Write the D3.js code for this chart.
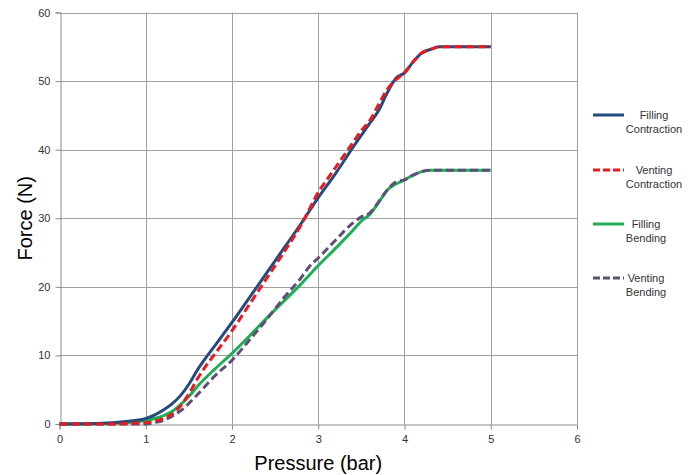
<!DOCTYPE html>
<html>
<head>
<meta charset="utf-8">
<script src="https://cdn.jsdelivr.net/npm/d3@7"></script>
<style>
  body { margin: 0; background: #fff; }
  svg { font-family: "Liberation Sans", Arial, sans-serif; }
</style>
</head>
<body>
<svg id="chart" width="694" height="475"></svg>
<script>
// pressure (bar) values per series
var fillContrX = [0, 0.5, 0.8, 1.0, 1.1, 1.2, 1.3, 1.4, 1.5, 1.6, 1.7, 1.8, 2.0, 2.2, 2.4, 2.6, 2.8, 3.0, 3.2, 3.4, 3.6, 3.7, 3.8, 3.9, 4.0, 4.1, 4.2, 4.3, 4.4, 5.0];
var fillContrY = [0, 0.1, 0.4, 0.8, 1.3, 2.0, 2.9, 4.1, 5.8, 7.9, 9.7, 11.4, 14.8, 18.4, 22.0, 25.6, 29.2, 33.0, 36.5, 40.3, 43.9, 45.7, 48.3, 50.4, 51.2, 52.8, 54.1, 54.6, 55, 55];

var ventContrX = [0, 0.5, 1.0, 1.1, 1.2, 1.3, 1.4, 1.5, 1.6, 1.7, 1.8, 2.0, 2.2, 2.4, 2.6, 2.8, 2.9, 3.0, 3.1, 3.2, 3.4, 3.5, 3.6, 3.7, 3.8, 3.9, 4.0, 4.1, 4.2, 4.3, 4.4, 5.0];
var ventContrY = [0, 0, 0.2, 0.4, 0.8, 1.4, 2.6, 4.4, 6.6, 8.5, 10.2, 13.6, 17.4, 21.2, 25.0, 29.0, 31.4, 33.8, 35.6, 37.4, 41.0, 42.8, 44.3, 46.6, 48.8, 50.2, 51.2, 52.8, 54.1, 54.6, 55, 55];

var fillBendX = [0, 0.5, 0.8, 1.0, 1.1, 1.2, 1.3, 1.4, 1.5, 1.6, 1.8, 2.0, 2.2, 2.4, 2.6, 2.8, 3.0, 3.2, 3.4, 3.5, 3.6, 3.7, 3.8, 3.9, 4.0, 4.1, 4.2, 4.3, 5.0];
var fillBendY = [0, 0.05, 0.2, 0.5, 0.8, 1.2, 1.8, 2.8, 4.0, 5.5, 8.0, 10.3, 12.8, 15.4, 17.9, 20.4, 23.1, 25.6, 28.2, 29.6, 30.6, 32.3, 34.1, 35.0, 35.6, 36.3, 36.8, 37, 37];

var ventBendX = [0, 0.5, 1.0, 1.1, 1.2, 1.3, 1.4, 1.5, 1.6, 1.8, 2.0, 2.2, 2.4, 2.6, 2.8, 2.9, 3.0, 3.2, 3.4, 3.5, 3.6, 3.7, 3.8, 3.9, 4.0, 4.1, 4.2, 4.3, 5.0];
var ventBendY = [0, 0, 0, 0.2, 0.5, 1.1, 1.9, 3.0, 4.3, 7.0, 9.3, 12.2, 15.2, 18.4, 21.3, 23.0, 24.2, 26.8, 29.3, 30.2, 30.8, 32.4, 34.1, 35.3, 35.6, 36.3, 36.8, 37, 37];

var seriesNames = [["Filling", "Contraction"], ["Venting", "Contraction"], ["Filling", "Bending"], ["Venting", "Bending"]];
var xTicks = [0, 1, 2, 3, 4, 5, 6];
var yTicks = [0, 10, 20, 30, 40, 50, 60];

var svg = d3.select("#chart");
var margin = {left: 59.5, top: 12.5, right: 117, bottom: 51};
var width = 577 - margin.left;
var height = 424 - margin.top;

var x = d3.scaleLinear().domain([0, 6]).range([margin.left, margin.left + width]);
var y = d3.scaleLinear().domain([0, 60]).range([margin.top + height, margin.top]);

//gridlines
svg.append("g").selectAll("line.vg")
    .data(xTicks.slice(1))
    .enter().append("line")
    .attr("x1", d => Math.round(x(d)) + 0.5).attr("x2", d => Math.round(x(d)) + 0.5)
    .attr("y1", y(60)).attr("y2", y(0))
    .attr("stroke", "#a0a0a0").attr("stroke-width", 1);
svg.append("g").selectAll("line.hg")
    .data(yTicks.slice(1))
    .enter().append("line")
    .attr("x1", x(0)).attr("x2", x(6))
    .attr("y1", d => Math.round(y(d)) + 0.5).attr("y2", d => Math.round(y(d)) + 0.5)
    .attr("stroke", "#a0a0a0").attr("stroke-width", 1);

//axes
var xAxis = svg.append("g")
    .attr("transform", "translate(0," + (Math.round(y(0)) + 0.5) + ")")
    .call(d3.axisBottom(x).tickValues(xTicks).tickFormat(d3.format("d")).tickSize(5).tickPadding(6));
var yAxis = svg.append("g")
    .attr("transform", "translate(" + (Math.round(x(0)) + 0.5) + ",0)")
    .call(d3.axisLeft(y).tickValues(yTicks).tickFormat(d3.format("d")).tickSize(5).tickPadding(5));
[xAxis, yAxis].forEach(function(g) {
    g.select(".domain").attr("stroke", "#8c8c8c");
    g.selectAll(".tick line").attr("stroke", "#8c8c8c");
    g.selectAll(".tick text")
        .style("font-size", "11px")
        .style("font-family", "'Liberation Sans', Arial, sans-serif")
        .attr("fill", "#333");
});

//axis titles
svg.append("text")
    .attr("x", (x(0) + x(6)) / 2)
    .attr("y", 470)
    .attr("text-anchor", "middle")
    .style("font-size", "20px")
    .text("Pressure (bar)");
svg.append("text")
    .attr("transform", "translate(32," + ((y(0) + y(60)) / 2) + ") rotate(-90)")
    .attr("text-anchor", "middle")
    .style("font-size", "20px")
    .text("Force (N)");

//series
var series = [
    {xs: fillContrX, ys: fillContrY, color: "#254a7e", dash: null},
    {xs: ventContrX, ys: ventContrY, color: "#e8191f", dash: "8,4"},
    {xs: fillBendX, ys: fillBendY, color: "#1eae55", dash: null},
    {xs: ventBendX, ys: ventBendY, color: "#5e4f78", dash: "8,4"}
];
var line = d3.line()
    .x(d => x(d[0]))
    .y(d => y(d[1]))
    .curve(d3.curveMonotoneX);

// draw order: green, purple, blue, red
[2, 3, 0, 1].forEach(function(i) {
    var s = series[i];
    var pts = s.xs.map((v, j) => [v, s.ys[j]]);
    svg.append("path")
        .datum(pts)
        .attr("d", line)
        .attr("fill", "none")
        .attr("stroke", s.color)
        .attr("stroke-width", 3)
        .attr("stroke-dasharray", s.dash);
});

//legend
var legendY = [115, 170, 224, 278];
var legendTextX = [654, 654, 646, 646];
series.forEach(function(s, i) {
    svg.append("line")
        .attr("x1", 593).attr("x2", 624)
        .attr("y1", legendY[i]).attr("y2", legendY[i])
        .attr("stroke", s.color)
        .attr("stroke-width", 3)
        .attr("stroke-dasharray", s.dash ? "7,3" : null);
    var t = svg.append("text")
        .attr("text-anchor", "middle")
        .style("font-size", "11px")
        .style("font-family", "'Liberation Sans', Arial, sans-serif")
        .attr("fill", "#333");
    t.append("tspan").attr("x", legendTextX[i]).attr("y", legendY[i] + 4).text(seriesNames[i][0]);
    t.append("tspan").attr("x", legendTextX[i]).attr("y", legendY[i] + 18).text(seriesNames[i][1]);
});
</script>
</body>
</html>
